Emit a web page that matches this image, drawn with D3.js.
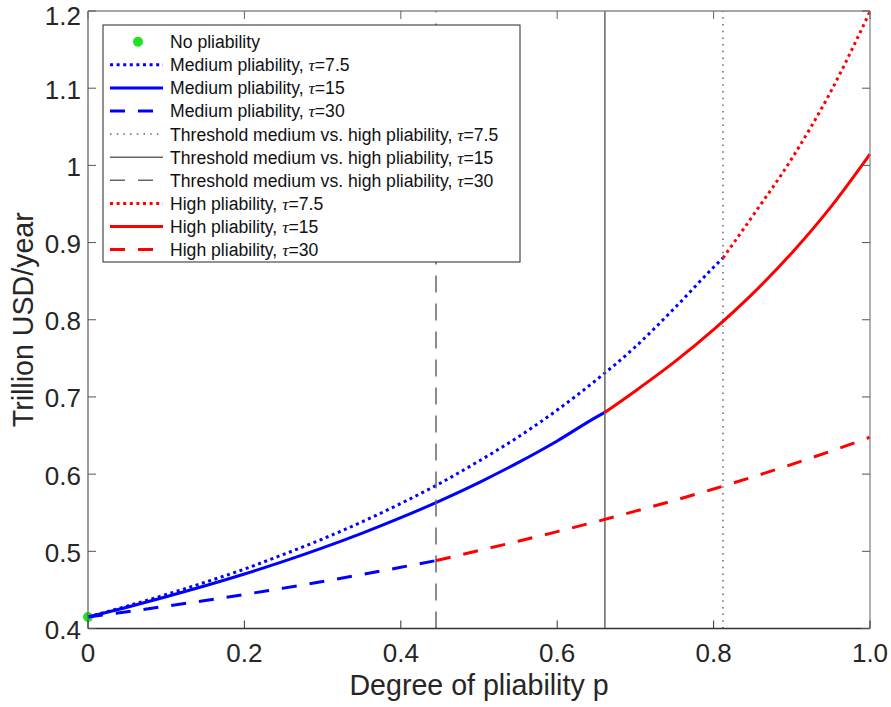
<!DOCTYPE html>
<html><head><meta charset="utf-8">
<script src="https://cdn.jsdelivr.net/npm/d3@7"></script>
<style>
html,body{margin:0;padding:0;background:#fff;}
text{font-family:"Liberation Sans",Arial,Helvetica,sans-serif;}
</style></head>
<body>
<svg id="chart" width="891" height="707"></svg>
<script>
// ---- data ----
const xTicks = [0, 0.2, 0.4, 0.6, 0.8, 1.0];
const xTickLabels = ["0", "0.2", "0.4", "0.6", "0.8", "1.0"];
const yTicks = [0.4, 0.5, 0.6, 0.7, 0.8, 0.9, 1.0, 1.1, 1.2];
const yTickLabels = ["0.4", "0.5", "0.6", "0.7", "0.8", "0.9", "1", "1.1", "1.2"];

const noPliability = [0, 0.415];
const thresholds = [0.812, 0.661, 0.445]; // tau = 7.5, 15, 30

const medP75 = [0,0.05,0.1,0.15,0.2,0.25,0.3,0.35,0.4,0.45,0.5,0.55,0.6,0.65,0.7,0.75,0.8,0.812];
const medV75 = [0.415,0.429,0.444,0.460,0.477,0.496,0.516,0.538,0.562,0.588,0.617,0.648,0.683,0.722,0.765,0.815,0.868,0.880];
const highP75 = [0.812,0.85,0.9,0.95,1.0];
const highV75 = [0.880,0.9345,1.0088,1.0959,1.1994];

const medP15 = [0,0.05,0.1,0.15,0.2,0.25,0.3,0.35,0.4,0.45,0.5,0.55,0.6,0.65,0.661];
const medV15 = [0.415,0.4276,0.4411,0.4554,0.4706,0.4869,0.5044,0.5232,0.5435,0.5654,0.5891,0.6149,0.6430,0.6739,0.680];
const highP15 = [0.661,0.7,0.75,0.8,0.85,0.9,0.95,1.0];
const highV15 = [0.680,0.7078,0.7454,0.7872,0.8339,0.8866,0.9463,1.0147];

const medP30 = [0,0.05,0.1,0.15,0.2,0.25,0.3,0.35,0.4,0.445];
const medV30 = [0.415,0.4218,0.4289,0.4363,0.4441,0.4523,0.4609,0.4699,0.4793,0.488];
const highP30 = [0.445,0.5,0.55,0.6,0.65,0.7,0.75,0.8,0.85,0.9,0.95,1.0];
const highV30 = [0.488,0.501,0.513,0.5255,0.5385,0.552,0.566,0.5808,0.5963,0.6126,0.6298,0.6478];

const legendLabels = [
  ["No pliability", null],
  ["Medium pliability, ", "7.5"],
  ["Medium pliability, ", "15"],
  ["Medium pliability, ", "30"],
  ["Threshold medium vs. high pliability, ", "7.5"],
  ["Threshold medium vs. high pliability, ", "15"],
  ["Threshold medium vs. high pliability, ", "30"],
  ["High pliability, ", "7.5"],
  ["High pliability, ", "15"],
  ["High pliability, ", "30"]
];

// ---- styles ----
const BLUE = "#0000ff", RED = "#ff0000", GRAY = "#666666", GREEN = "#22e322";
const DOT = "3,3.6", DASH = "15,13", GDOT = "1.5,5.2";

const svg = d3.select("#chart");
const L = 88, T = 11, W = 782, H = 617.5;
const x = d3.scaleLinear().domain([0, 1]).range([L, L + W]);
const y = d3.scaleLinear().domain([0.4, 1.2]).range([T + H, T]);

const g = svg.append("g");

const line = d3.line().x(d => x(d[0])).y(d => y(d[1])).curve(d3.curveMonotoneX);
const zip = (a, b) => a.map((v, i) => [v, b[i]]);

// green dot (plotted first)
g.append("circle").attr("cx", x(noPliability[0])).attr("cy", y(noPliability[1]))
  .attr("r", 5).attr("fill", GREEN);

// medium curves
const curves = [
  {p: medP75, v: medV75, c: BLUE, d: DOT},
  {p: medP15, v: medV15, c: BLUE, d: null},
  {p: medP30, v: medV30, c: BLUE, d: DASH}
];
curves.forEach(s => {
  g.append("path").attr("d", line(zip(s.p, s.v))).attr("fill", "none")
    .attr("stroke", s.c).attr("stroke-width", 3)
    .attr("stroke-dasharray", s.d);
});

// thresholds
const thrDash = [GDOT, null, "17,11"];
thresholds.forEach((t, i) => {
  g.append("line").attr("x1", x(t)).attr("x2", x(t)).attr("y1", y(0.4)).attr("y2", y(1.2))
    .attr("stroke", GRAY).attr("stroke-width", 1.5).attr("stroke-dasharray", thrDash[i]);
});

// high curves
const highs = [
  {p: highP75, v: highV75, c: RED, d: DOT},
  {p: highP15, v: highV15, c: RED, d: null},
  {p: highP30, v: highV30, c: RED, d: DASH}
];
highs.forEach(s => {
  g.append("path").attr("d", line(zip(s.p, s.v))).attr("fill", "none")
    .attr("stroke", s.c).attr("stroke-width", 3)
    .attr("stroke-dasharray", s.d);
});

// axes box
const ax = svg.append("g");
ax.append("line").attr("x1", L).attr("x2", L + W).attr("y1", T + H).attr("y2", T + H).attr("stroke", "#333").attr("stroke-width", 1.3);
ax.append("line").attr("x1", L).attr("x2", L).attr("y1", T).attr("y2", T + H).attr("stroke", "#666").attr("stroke-width", 1.3);
ax.append("line").attr("x1", L).attr("x2", L + W).attr("y1", T).attr("y2", T).attr("stroke", "#888").attr("stroke-width", 1.3);
ax.append("line").attr("x1", L + W).attr("x2", L + W).attr("y1", T).attr("y2", T + H).attr("stroke", "#888").attr("stroke-width", 1.3);

// ticks
const TL = 8;
xTicks.forEach((t, i) => {
  ax.append("line").attr("x1", x(t)).attr("x2", x(t)).attr("y1", T + H).attr("y2", T + H - TL).attr("stroke", "#333");
  ax.append("line").attr("x1", x(t)).attr("x2", x(t)).attr("y1", T).attr("y2", T + TL).attr("stroke", "#666");
  ax.append("text").attr("x", x(t)).attr("y", 662).attr("text-anchor", "middle")
    .attr("font-size", 26).attr("fill", "#262626").text(xTickLabels[i]);
});
yTicks.forEach((t, i) => {
  ax.append("line").attr("x1", L).attr("x2", L + TL).attr("y1", y(t)).attr("y2", y(t)).attr("stroke", "#555");
  ax.append("line").attr("x1", L + W).attr("x2", L + W - TL).attr("y1", y(t)).attr("y2", y(t)).attr("stroke", "#555");
  ax.append("text").attr("x", 81).attr("y", Math.max(y(t) + 10.5, 24.5)).attr("text-anchor", "end")
    .attr("font-size", 26).attr("fill", "#262626").text(yTickLabels[i]);
});

// axis titles
ax.append("text").attr("x", L + W / 2).attr("y", 695).attr("text-anchor", "middle")
  .attr("font-size", 28.6).attr("fill", "#262626").text("Degree of pliability p");
ax.append("text").attr("transform", `translate(33,${T + H / 2}) rotate(-90)`).attr("text-anchor", "middle")
  .attr("font-size", 28.6).attr("fill", "#262626").text("Trillion USD/year");

// legend
const lg = svg.append("g");
const LX = 103, LY = 25, LW = 417, LH = 237;
lg.append("rect").attr("x", LX).attr("y", LY).attr("width", LW).attr("height", LH)
  .attr("fill", "#fff").attr("stroke", "#262626").attr("stroke-width", 1);
const legStyles = [
  {type: "dot"},
  {c: BLUE, d: DOT, w: 3}, {c: BLUE, d: null, w: 3}, {c: BLUE, d: DASH, w: 3},
  {c: GRAY, d: GDOT, w: 1.5}, {c: GRAY, d: null, w: 1.5}, {c: GRAY, d: DASH, w: 1.5},
  {c: RED, d: DOT, w: 3}, {c: RED, d: null, w: 3}, {c: RED, d: DASH, w: 3}
];
legendLabels.forEach((lab, i) => {
  const cy = 41.7 + i * 23.1;
  const st = legStyles[i];
  if (st.type === "dot") {
    lg.append("circle").attr("cx", 138).attr("cy", cy).attr("r", 5).attr("fill", GREEN);
  } else {
    lg.append("line").attr("x1", 110).attr("x2", 163).attr("y1", cy).attr("y2", cy)
      .attr("stroke", st.c).attr("stroke-width", st.w).attr("stroke-dasharray", st.d);
  }
  const tx = lg.append("text").attr("x", 170).attr("y", cy + 6.4)
    .attr("font-size", 17.6).attr("fill", "#111");
  tx.append("tspan").text(lab[0]);
  if (lab[1] !== null) {
    tx.append("tspan").attr("font-family", "'Liberation Serif','DejaVu Serif',serif").attr("font-style", "italic").text("τ");
    tx.append("tspan").text("=" + lab[1]);
  }
});
</script>
</body></html>
